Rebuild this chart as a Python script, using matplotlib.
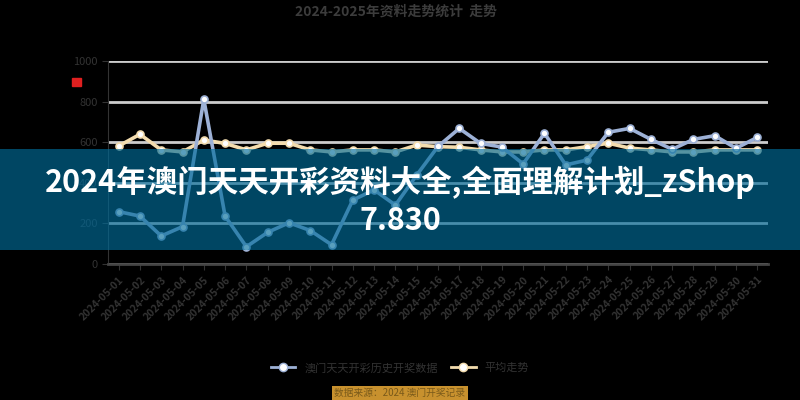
import matplotlib
matplotlib.use('Agg')
import matplotlib.pyplot as plt
import matplotlib.patches as mpatches
from matplotlib.lines import Line2D

plt.rcParams['font.family'] = ['Noto Sans CJK SC', 'DejaVu Sans']

# data
dates = ['2024-05-%02d' % d for d in range(1, 32)]
series_a = [258, 236, 138, 184, 811, 236, 85, 156, 203, 165, 95,
            315, 365, 290, 438, 579, 668, 594, 576, 493, 644, 488,
            512, 649, 668, 614, 565, 614, 632, 570, 624]
series_b = [581, 639, 562, 552, 611, 594, 562, 595, 595, 562, 552,
            562, 562, 552, 586, 578, 575, 562, 552, 552, 562, 562,
            578, 595, 571, 562, 552, 552, 562, 562, 562]
name_a = '澳门天天开彩历史开奖数据'
name_b = '平均走势'
y_ticks = [0, 200, 400, 600, 800, 1000]

blue = '#9db1d6'
cream = '#f3dcae'
dim = '#333333'

fig = plt.figure(figsize=(8, 4), dpi=100)
fig.patch.set_facecolor('black')
ax = fig.add_axes([0.135, 0.34, 0.825, 0.5075])
ax.set_facecolor('black')

x = list(range(len(dates)))
ax.plot(x, series_a, color=blue, lw=2.6, marker='o', ms=5,
        mfc='white', mec=blue, mew=1.2, zorder=3)
ax.plot(x, series_b, color=cream, lw=2.6, marker='o', ms=5,
        mfc='white', mec=cream, mew=1.2, zorder=2)

ax.set_xlim(-0.5, len(dates) - 0.5)
ax.set_ylim(0, 1000)
ax.set_yticks(y_ticks)
ax.set_yticklabels([str(v) for v in y_ticks], color=dim, fontsize=8)
ax.grid(axis='y', color='#cccccc', lw=2)
ax.set_axisbelow(True)
ax.set_xticks(x)
ax.set_xticklabels(dates, rotation=45, ha='right', rotation_mode='anchor',
                   color=dim, fontsize=7.5, fontweight='bold')
ax.tick_params(axis='x', colors=dim, length=4)
ax.tick_params(axis='y', colors=dim, length=4)
for side in ['top', 'right']:
    ax.spines[side].set_visible(False)
ax.spines['left'].set_color('#333333')
ax.spines['bottom'].set_color('#444444')
ax.spines['bottom'].set_linewidth(2)

# title
fig.text(0.495, 0.97, '2024-2025年资料走势统计  走势', ha='center', va='center',
         color='#3c3c3c', fontsize=10, fontweight='bold')

# small red mark near the y axis
fig.patches.append(mpatches.Rectangle((0.09, 0.785), 0.011, 0.02,
                                      transform=fig.transFigure,
                                      color='#e02020'))

# legend
handles = [Line2D([], [], color=blue, lw=2, marker='o', ms=6, mfc='white', mec=blue),
           Line2D([], [], color=cream, lw=2, marker='o', ms=6, mfc='white', mec=cream)]
leg = fig.legend(handles, [name_a, name_b], loc='center', ncol=2,
                 bbox_to_anchor=(0.5, 0.08), frameon=False, fontsize=8,
                 handlelength=2.2, columnspacing=1.2)
for t in leg.get_texts():
    t.set_color(dim)

fig.text(0.5, 0.017, '数据来源：2024 澳门开奖记录', ha='center', va='center',
         color='#7a5a1a', fontsize=7,
         bbox=dict(boxstyle='square,pad=0.25', facecolor='#c8912e', edgecolor='none'))

# overlay banner
fig.patches.append(mpatches.Rectangle((0, 1 - 250 / 400), 1, 101 / 400,
                                      transform=fig.transFigure,
                                      facecolor=(0, 108 / 255, 154 / 255),
                                      alpha=0.65, zorder=5))
fig.text(0.5, 1 - 182 / 400, '2024年澳门天天开彩资料大全,全面理解计划_zShop',
         ha='center', va='center', color='white', fontsize=22,
         fontweight='bold', zorder=6)
fig.text(0.5, 1 - 221 / 400, '7.830', ha='center', va='center',
         color='white', fontsize=22, fontweight='bold', zorder=6)

fig.savefig('out.png', dpi=100, facecolor='black')
